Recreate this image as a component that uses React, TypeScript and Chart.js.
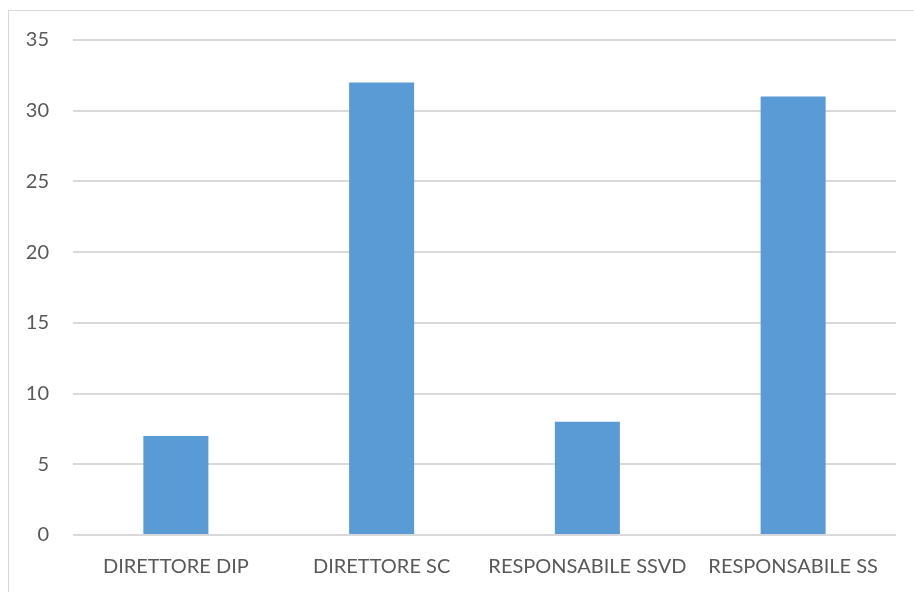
import React, { useEffect, useRef } from "react";
import { Chart, registerables } from "chart.js";

Chart.register(...registerables);

const categories = ["DIRETTORE DIP", "DIRETTORE SC", "RESPONSABILE SSVD", "RESPONSABILE SS"];
const values = [7, 32, 8, 31];
const yMin = 0;
const yMax = 35;
const yStep = 5;

export default function App() {
  const ref = useRef<HTMLCanvasElement | null>(null);

  useEffect(() => {
    document.body.style.overflow = "hidden";
    const ctx = ref.current!;
    const font = { family: "Lato, 'Open Sans', sans-serif", size: 20 };
    const chart = new Chart(ctx, {
      type: "bar",
      data: {
        labels: categories,
        datasets: [
          {
            data: values,
            backgroundColor: "#5b9bd5",
            borderWidth: 0,
            barPercentage: 1,
            categoryPercentage: 0.316,
          },
        ],
      },
      options: {
        responsive: false,
        animation: false,
        layout: { padding: { top: 29, right: 18, bottom: 0, left: 0 } },
        plugins: { legend: { display: false }, tooltip: { enabled: false } },
        scales: {
          x: {
            grid: { display: false, drawTicks: false },
            border: { display: false },
            ticks: { color: "#595959", font, padding: 20, maxRotation: 0, autoSkip: false },
            afterFit: (s: any) => {
              s.height = 57;
            },
          },
          y: {
            min: yMin,
            max: yMax,
            grid: { color: "#d9d9d9", lineWidth: 2, drawTicks: false },
            border: { display: false },
            ticks: { stepSize: yStep, color: "#595959", font, padding: 24 },
            afterFit: (s: any) => {
              s.width = 64;
              s.paddingTop = 0;
              s.paddingBottom = 0;
            },
          },
        },
      },
    });
    return () => chart.destroy();
  }, []);

  return (
    <div
      style={{
        position: "absolute",
        left: 8,
        top: 10,
        borderLeft: "1px solid #d9d9d9",
        borderTop: "1px solid #d9d9d9",
        width: 905,
        height: 581,
      }}
    >
      <canvas ref={ref} width={905} height={581} style={{ display: "block" }} />
    </div>
  );
}
